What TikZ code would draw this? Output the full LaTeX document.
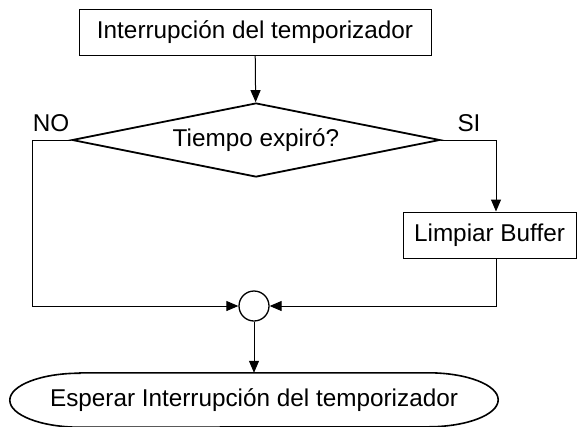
\documentclass[tikz,border=0pt]{standalone}
\usepackage{fontspec}
\setmainfont{Liberation Sans}
\usepackage{tikz}
\usetikzlibrary{shapes.geometric, arrows.meta, positioning, calc}

\begin{document}
\begin{tikzpicture}[x=1pt, y=-1pt,
    caja/.style={rectangle, draw=black, line width=1pt, inner sep=0pt, font=\fontsize{24.3}{28}\selectfont},
    decision/.style={diamond, aspect=5, draw=black, line width=1.8pt, inner sep=0pt, minimum width=368pt, minimum height=74pt, font=\fontsize{24.3}{28}\selectfont},
    etiqueta/.style={inner sep=0pt, font=\fontsize{24.3}{28}\selectfont},
    flecha/.style={-{Triangle[length=12pt, width=10pt]}, line width=1pt}
]
\useasboundingbox (0,0) rectangle (577,426);

% Nodos
\node[caja, minimum width=352pt, minimum height=46pt] (inicio) at (255,32) {Interrupción del temporizador};
\node[decision] (cond) at (256,140) {Tiempo expiró?};
\node[caja, minimum width=173pt, minimum height=46pt] (limpiar) at (489.5,235) {Limpiar Buffer};
\node[circle, draw=black, line width=1.3pt, minimum size=30pt, inner sep=0pt] (union) at (254,306) {};
\node[etiqueta, minimum width=488pt, minimum height=54pt] (espera) at (254,400) {Esperar Interrupción del temporizador};

% Contorno de la espera
\draw[line width=1.6pt] ($(espera.north west)+(70,0)$) -- ($(espera.north east)+(-70,0)$)
    arc[start angle=90, end angle=-90, x radius=70pt, y radius=27pt]
    -- ($(espera.south west)+(70,0)$)
    arc[start angle=270, end angle=90, x radius=70pt, y radius=27pt] -- cycle;

% Etiquetas
\node[etiqueta] (no) at (51,123) {NO};
\node[etiqueta] (si) at (469,123) {SI};

% Conectores
\draw[flecha] (inicio) -- (cond);
\draw[flecha] (cond.east) -| ([xshift=6.5pt]limpiar.north);
\draw[flecha] ([xshift=6.5pt]limpiar.south) |- (union.east);
\draw[flecha] (cond.west) -- ++(-39,0) |- (union.west);
\draw[flecha] (union) -- (espera.north);

\end{tikzpicture}
\end{document}
